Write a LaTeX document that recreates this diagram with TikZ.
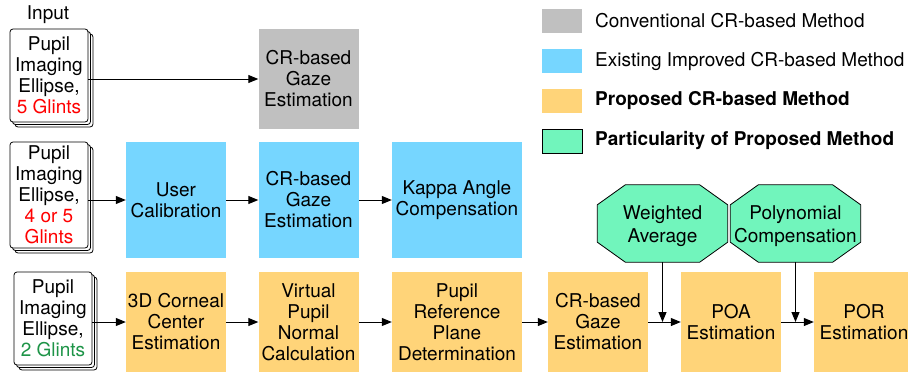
\documentclass[tikz,border=0pt]{standalone}
\usepackage{fontspec}
\setmainfont{TeX Gyre Heros}
\usetikzlibrary{arrows.meta,shadows,backgrounds}

\definecolor{cgray}{HTML}{C0C0C0}
\definecolor{cblue}{HTML}{76D6FF}
\definecolor{corange}{HTML}{FFD479}
\definecolor{cmint}{HTML}{71F5BC}
\definecolor{cred}{HTML}{FF0000}
\definecolor{cgreen}{HTML}{1D9447}

\tikzset{
  txt/.style={font=\fontsize{19}{21}\selectfont, align=center, inner sep=0pt},
  stepbox/.style={txt, rectangle, minimum width=100pt, minimum height=100pt},
  widebox/.style={stepbox, minimum width=130pt},
  docbox/.style={txt, draw=black, line width=0.8pt, fill=white, rounded corners=3pt,
    minimum width=78pt, double copy shadow={shadow xshift=2.5pt, shadow yshift=-2.5pt}},
  octo/.style={rectangle, inner sep=0pt, minimum width=130pt, minimum height=77pt},
  octtext/.style={txt, font=\fontsize{19}{23}\selectfont},
  octline/.style={draw=black, line width=0.8pt, fill=cmint},
  swatch/.style={rectangle, minimum width=40pt, minimum height=24pt, inner sep=0pt},
  legtext/.style={font=\fontsize{19}{21}\selectfont, anchor=west, inner sep=0pt},
  arr/.style={line width=1pt, -{Triangle[length=10pt,width=8pt]}},
}

\begin{document}
\begin{tikzpicture}[x=1pt,y=-1pt]
\useasboundingbox (0,0) rectangle (908,375);

% legend
\node[swatch, fill=cgray] (lg1) at (562,21) {};
\node[swatch, fill=cblue] (lg2) at (562,61) {};
\node[swatch, fill=corange] (lg3) at (562,101) {};
\node[swatch, fill=cmint, draw=black, line width=0.8pt] (lg4) at (562,141) {};
\node[legtext] (lt1) at (595,21) {Conventional CR-based Method};
\node[legtext] (lt2) at (595,61) {Existing Improved CR-based Method};
\node[legtext] (lt3) at (595,101) {\bfseries Proposed CR-based Method};
\node[legtext] (lt4) at (595,141) {\bfseries Particularity of Proposed Method};

% row 1: conventional method
\node[txt] (inp) at (48,15) {Input};
\node[docbox, minimum height=93pt] (d1) at (49,75.5) {Pupil\\Imaging\\Ellipse,\\\textcolor{cred}{5 Glints}};
\node[stepbox, fill=cgray] (g1) at (308.5,79) {CR-based\\Gaze\\Estimation};
\draw[arr] (d1.east |- g1) -- (g1.west);

% row 2: existing improved method
\node[docbox, minimum height=106pt] (d2) at (49,195) {Pupil\\Imaging\\Ellipse,\\\textcolor{cred}{4 or 5}\\\textcolor{cred}{Glints}};
\node[stepbox, fill=cblue, minimum height=116pt] (b1) at (176,200) {User\\Calibration};
\node[stepbox, fill=cblue, minimum height=116pt] (b2) at (308.5,200) {CR-based\\Gaze\\Estimation};
\node[widebox, fill=cblue, minimum height=116pt] (b3) at (457,200) {Kappa Angle\\Compensation};
\draw[arr] (d2.east |- b1) -- (b1.west);
\draw[arr] (b1) -- (b2);
\draw[arr] (b2) -- (b3);

% row 3: proposed method
\node[docbox, minimum height=93pt] (d3) at (53,318.5) {Pupil\\Imaging\\Ellipse,\\\textcolor{cgreen}{2 Glints}};
\node[stepbox, fill=corange] (p1) at (176,322) {3D Corneal\\Center\\Estimation};
\node[stepbox, fill=corange] (p2) at (308.5,322) {Virtual\\Pupil\\Normal\\Calculation};
\node[widebox, fill=corange] (p3) at (457,322) {Pupil\\Reference\\Plane\\Determination};
\node[stepbox, fill=corange] (p4) at (598,322) {CR-based\\Gaze\\Estimation};
\node[stepbox, fill=corange] (p5) at (731,322) {POA\\Estimation};
\node[stepbox, fill=corange] (p6) at (864,322) {POR\\Estimation};
\draw[arr] (d3.east |- p1) -- (p1.west);
\draw[arr] (p1) -- (p2);
\draw[arr] (p2) -- (p3);
\draw[arr] (p3) -- (p4);
\draw[arr] (p4) -- (p5);
\draw[arr] (p5) -- (p6);

% particularities feeding the proposed chain (octagonal outlines behind the text)
\node[octo] (w) at (662.5,223.5) {};
\node[octo] (pc) at (795.5,223.5) {};
\begin{scope}[on background layer]
  \foreach \o in {w,pc}{
    \draw[octline] ([xshift=28pt]\o.north west) -- ([xshift=-28pt]\o.north east)
      -- ([yshift=-20pt]\o.north east) -- ([yshift=20pt]\o.south east)
      -- ([xshift=-28pt]\o.south east) -- ([xshift=28pt]\o.south west)
      -- ([yshift=20pt]\o.south west) -- ([yshift=-20pt]\o.north west) -- cycle;
  }
\end{scope}
\node[octtext] (wt) at ([yshift=-2.5pt]w.center) {Weighted\\Average};
\node[octtext] (pct) at ([yshift=-2.5pt]pc.center) {Polynomial\\Compensation};
\draw[arr] (w.south) -- (w.south |- p5.west);
\draw[arr] (pc.south) -- (pc.south |- p6.west);
\end{tikzpicture}
\end{document}
